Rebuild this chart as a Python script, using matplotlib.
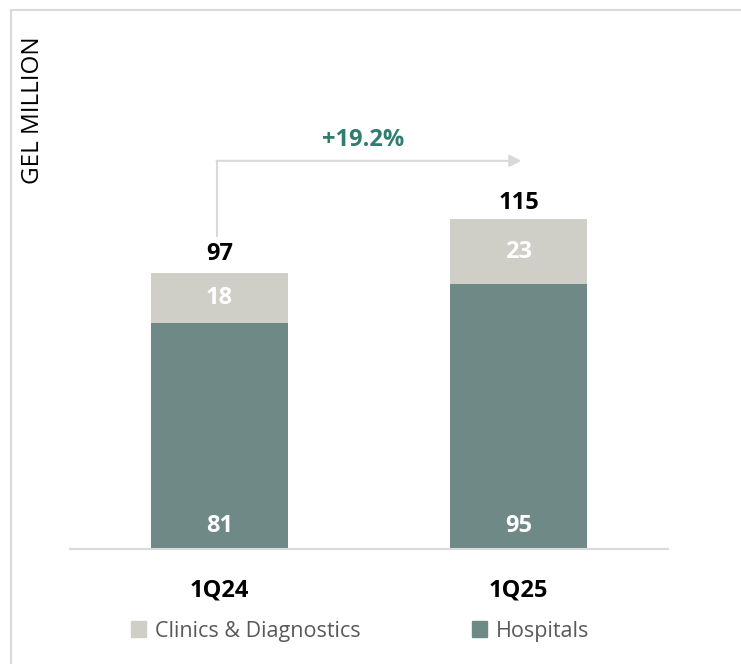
import matplotlib.pyplot as plt
from matplotlib.lines import Line2D
from matplotlib.patches import Patch

plt.rcParams['font.family'] = ['Open Sans', 'DejaVu Sans']

quarters = ["1Q24", "1Q25"]
hospitals = [81, 95]
clinics = [18, 23]
totals = [97, 115]
growth = "+19.2%"

c_hosp = "#6f8987"
c_clin = "#cfcec7"

fig = plt.figure(figsize=(7.41, 6.64), dpi=100)
W, H = 741, 664
ax = fig.add_axes([70 / W, 1 - 549 / H, 598 / W, 539 / H])

x = range(len(quarters))
ax.bar(x, hospitals, width=0.46, color=c_hosp, zorder=2)
ax.bar(x, clinics, width=0.46, bottom=hospitals, color=c_clin, zorder=2)
ax.set_xlim(-0.5, 1.5)
ax.set_ylim(0, 193)

fs = 17
for i in x:
    ax.text(i, 4, str(hospitals[i]), ha="center", va="bottom", color="white",
            fontsize=fs, fontweight="bold")
    ax.text(i, hospitals[i] + clinics[i] / 2, str(clinics[i]), ha="center",
            va="center", color="white", fontsize=fs, fontweight="bold")
    ax.text(i, totals[i] + 4.5, str(totals[i]), ha="center", va="bottom",
            color="black", fontsize=fs, fontweight="bold")

# growth arrow
y0 = totals[0] + 15
y1 = 139
ax.plot([-0.01, -0.01], [y0, y1], color="#d9d9d9", lw=1.5, zorder=1)
ax.annotate("", xy=(1.01, y1), xytext=(-0.01, y1),
            arrowprops=dict(arrowstyle="-|>", color="#d9d9d9", lw=1.5,
                            mutation_scale=18, shrinkA=0, shrinkB=0))
ax.text(0.48, y1 + 3, growth, ha="center", va="bottom", color="#2e7d6e",
        fontsize=fs, fontweight="bold")

for s in ["top", "right", "left"]:
    ax.spines[s].set_visible(False)
ax.spines["bottom"].set_color("#d9d9d9")
ax.spines["bottom"].set_linewidth(1.5)
ax.set_yticks([])
ax.set_xticks(list(x))
ax.set_xticklabels(quarters, fontsize=fs, fontweight="bold")
ax.tick_params(axis="x", length=0, pad=21)

fig.text(33 / W, 1 - 110 / H, "GEL MILLION", rotation=90, ha="center",
         va="center", fontsize=17.5, color="black")

handles = [Patch(color=c_clin), Patch(color=c_hosp)]
fig.legend(handles, ["Clinics & Diagnostics", "Hospitals"], loc="center",
           bbox_to_anchor=(360 / W, 1 - 631 / H), ncol=2, frameon=False,
           fontsize=15.5, labelcolor="#595959", handlelength=0.7,
           handleheight=0.7, handletextpad=0.4, columnspacing=5.2)

# frame lines at top and left
fig.add_artist(Line2D([11 / W, 1], [1 - 10 / H, 1 - 10 / H], color="#d9d9d9", lw=1.5))
fig.add_artist(Line2D([11 / W, 11 / W], [0, 1 - 10 / H], color="#d9d9d9", lw=1.5))

fig.savefig("out.png", dpi=100)
